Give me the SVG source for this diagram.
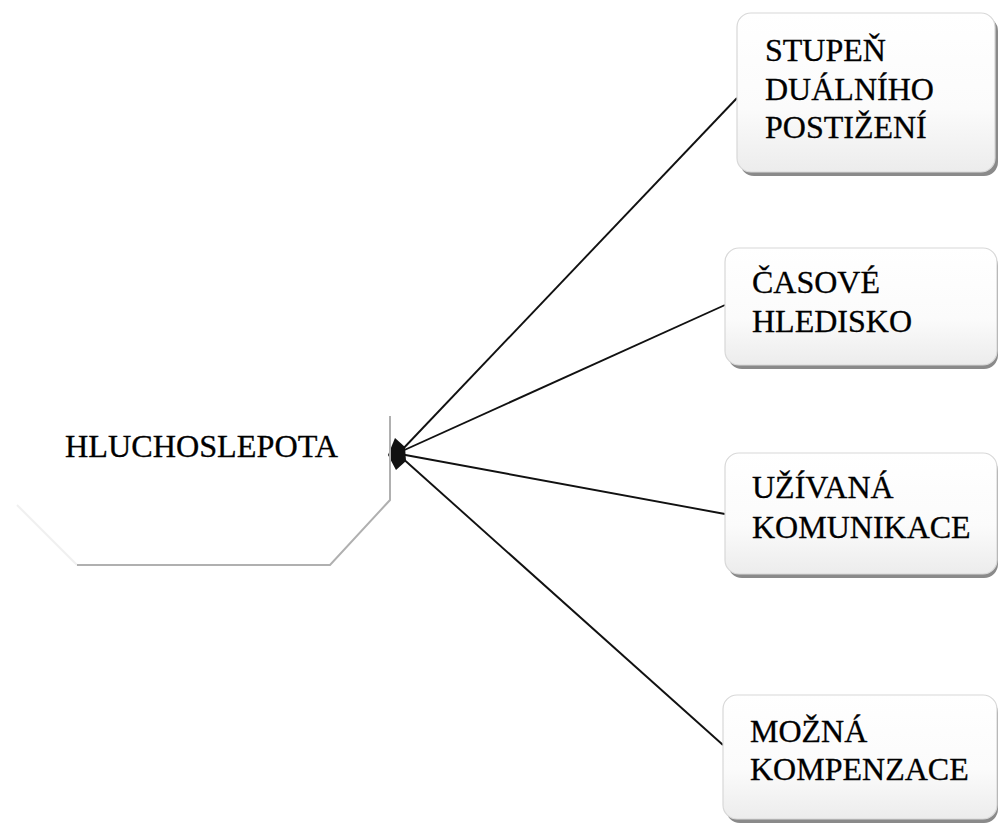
<svg xmlns="http://www.w3.org/2000/svg" width="998" height="823" viewBox="0 0 998 823">
<style>
  text { font-family: 'Liberation Serif', 'Times New Roman', 'DejaVu Serif', serif; font-size: 32px; fill: #000; stroke: #000; stroke-width: 0.3; }
  .box { fill: url(#g); stroke: #d8d8d8; stroke-width: 1.2; }
  .sh { fill: #8a8a8a; }
  .con { stroke: #111; stroke-width: 1.9; fill: none; }
</style>
<defs>
  <linearGradient id="g" x1="0" y1="0" x2="0" y2="1">
    <stop offset="0" stop-color="#ffffff"/>
    <stop offset="0.6" stop-color="#fbfbfb"/>
    <stop offset="1" stop-color="#ececec"/>
  </linearGradient>
</defs>
<rect width="998" height="823" fill="#ffffff"/>

<g id="connectors">
  <line class="con" x1="400" y1="452" x2="737" y2="98"/>
  <line class="con" x1="400" y1="452" x2="725" y2="305"/>
  <line class="con" x1="400" y1="454" x2="725" y2="514"/>
  <line class="con" x1="400" y1="456" x2="723" y2="745"/>
  <polygon points="388,455 395,438 405,447 406,461 396,470" fill="#111"/>
</g>

<g id="hluchoslepota">
  <path d="M17,505 L77,565" stroke="#f0f0f0" stroke-width="2" fill="none"/>
  <path d="M390,416 L390,500 L330,565 L77,565" stroke="#b0b0b0" stroke-width="2" fill="none"/>
  <text x="65" y="457" textLength="273" lengthAdjust="spacingAndGlyphs">HLUCHOSLEPOTA</text>
</g>

<g id="stupen">
  <rect class="sh" x="740" y="17" width="258" height="159" rx="14"/>
  <rect class="box" x="737" y="13" width="258" height="159" rx="14"/>
  <text x="765" y="61">STUPEŇ</text>
  <text x="765" y="100">DUÁLNÍHO</text>
  <text x="765" y="138">POSTIŽENÍ</text>
</g>

<g id="casove">
  <rect class="sh" x="728" y="252" width="270" height="117" rx="14"/>
  <rect class="box" x="725" y="248" width="272" height="117" rx="14"/>
  <text x="752" y="293">ČASOVÉ</text>
  <text x="752" y="332">HLEDISKO</text>
</g>

<g id="uzivana">
  <rect class="sh" x="728" y="457" width="270" height="121" rx="14"/>
  <rect class="box" x="725" y="453" width="272" height="121" rx="14"/>
  <text x="752" y="498">UŽÍVANÁ</text>
  <text x="752" y="538">KOMUNIKACE</text>
</g>

<g id="mozna">
  <rect class="sh" x="726" y="699" width="272" height="124" rx="14"/>
  <rect class="box" x="723" y="695" width="274" height="124" rx="14"/>
  <text x="750" y="742">MOŽNÁ</text>
  <text x="750" y="780">KOMPENZACE</text>
</g>
</svg>
